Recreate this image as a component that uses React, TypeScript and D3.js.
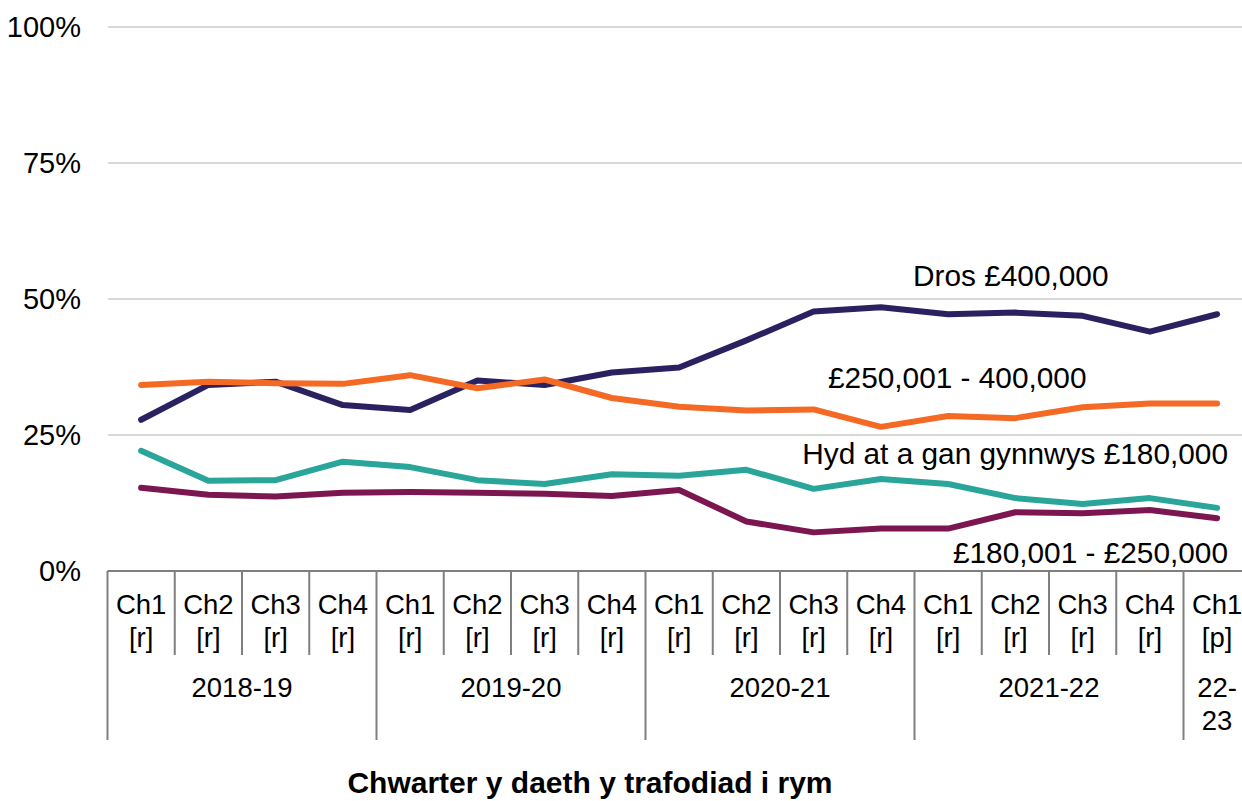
import React from "react";
import * as d3 from "d3";

const categories = [
  "Ch1|[r]", "Ch2|[r]", "Ch3|[r]", "Ch4|[r]",
  "Ch1|[r]", "Ch2|[r]", "Ch3|[r]", "Ch4|[r]",
  "Ch1|[r]", "Ch2|[r]", "Ch3|[r]", "Ch4|[r]",
  "Ch1|[r]", "Ch2|[r]", "Ch3|[r]", "Ch4|[r]",
  "Ch1|[p]",
];
const years = [
  { label: ["2018-19"], start: 0, count: 4 },
  { label: ["2019-20"], start: 4, count: 4 },
  { label: ["2020-21"], start: 8, count: 4 },
  { label: ["2021-22"], start: 12, count: 4 },
  { label: ["22-", "23"], start: 16, count: 1 },
];
const over400 = [27.8, 34.2, 34.8, 30.5, 29.6, 35.0, 34.2, 36.5, 37.4, 42.4, 47.7, 48.5, 47.2, 47.5, 46.9, 44.0, 47.2];
const b250to400 = [34.2, 34.8, 34.5, 34.4, 36.0, 33.6, 35.2, 31.8, 30.2, 29.5, 29.7, 26.5, 28.5, 28.1, 30.1, 30.8, 30.8];
const upTo180 = [22.1, 16.6, 16.7, 20.1, 19.1, 16.7, 16.0, 17.8, 17.5, 18.6, 15.1, 16.9, 16.0, 13.4, 12.3, 13.4, 11.6];
const b180to250 = [15.3, 14.0, 13.7, 14.4, 14.5, 14.4, 14.2, 13.8, 14.9, 9.1, 7.1, 7.8, 7.8, 10.8, 10.6, 11.2, 9.7];
const yTicks = [0, 25, 50, 75, 100];

const series = [
  { name: "Dros £400,000", values: over400, color: "#2a2260", lx: 913, ly: 286, anchor: "start" },
  { name: "£250,001 - 400,000", values: b250to400, color: "#f46a25", lx: 828, ly: 388, anchor: "start" },
  { name: "Hyd at a gan gynnwys £180,000", values: upTo180, color: "#2aa59a", lx: 1228, ly: 464, anchor: "end" },
  { name: "£180,001 - £250,000", values: b180to250, color: "#7c1650", lx: 1228, ly: 563, anchor: "end" },
];

const W = 1242;
const H = 801;
const FONT = "Liberation Sans, Arial, sans-serif";

export default function App() {
  const x = d3.scaleBand<number>().domain(d3.range(categories.length)).range([107.5, 1250.75]).paddingInner(0).paddingOuter(0);
  const y = d3.scaleLinear().domain([0, 100]).range([571, 27]);
  const bw = x.bandwidth();
  const line = d3
    .line<number>()
    .x((_, i) => (x(i) as number) + bw / 2)
    .y((d) => y(d));

  return (
    <svg width={W} height={H} style={{ position: "absolute", left: 0, top: 0, background: "#fff" }} fontFamily={FONT}>
      {yTicks.map((t) => (
        <g key={t}>
          {t > 0 && <line x1={108} x2={W} y1={y(t)} y2={y(t)} stroke="#d9d9d9" strokeWidth={2} />}
          <text x={81} y={y(t) + 10} textAnchor="end" fontSize={29} fill="#000">
            {t}%
          </text>
        </g>
      ))}
      <line x1={107.5} x2={W} y1={y(0)} y2={y(0)} stroke="#7f7f7f" strokeWidth={2} />
      {d3.range(categories.length + 1).map((i) => {
        const xx = i < categories.length ? (x(i) as number) : 107.5 + bw * categories.length;
        const isYear = years.some((yr) => yr.start === i) || i === categories.length;
        return (
          <line key={i} x1={xx} x2={xx} y1={y(0)} y2={isYear ? 740 : 655} stroke="#7f7f7f" strokeWidth={2} />
        );
      })}
      {categories.map((c, i) => {
        const [a, b] = c.split("|");
        const cx = (x(i) as number) + bw / 2;
        return (
          <g key={i}>
            <text x={cx} y={614} textAnchor="middle" fontSize={27.5}>{a}</text>
            <text x={cx} y={647} textAnchor="middle" fontSize={27.5}>{b}</text>
          </g>
        );
      })}
      {years.map((yr, i) => {
        const cx = (x(yr.start) as number) + (bw * yr.count) / 2;
        return (
          <text key={i} x={cx} y={697} textAnchor="middle" fontSize={27.5}>
            {yr.label.map((l, j) => (
              <tspan key={j} x={cx} dy={j === 0 ? 0 : 33}>{l}</tspan>
            ))}
          </text>
        );
      })}
      {series.map((s) => (
        <path key={s.name} d={line(s.values) || ""} fill="none" stroke={s.color} strokeWidth={6} strokeLinecap="round" strokeLinejoin="round" />
      ))}
      {series.map((s) => (
        <text key={s.name + "l"} x={s.lx} y={s.ly} textAnchor={s.anchor as any} fontSize={29.8} fill="#000">
          {s.name}
        </text>
      ))}
      <text x={590} y={793} textAnchor="middle" fontSize={30} fontWeight="bold">
        Chwarter y daeth y trafodiad i rym
      </text>
    </svg>
  );
}
